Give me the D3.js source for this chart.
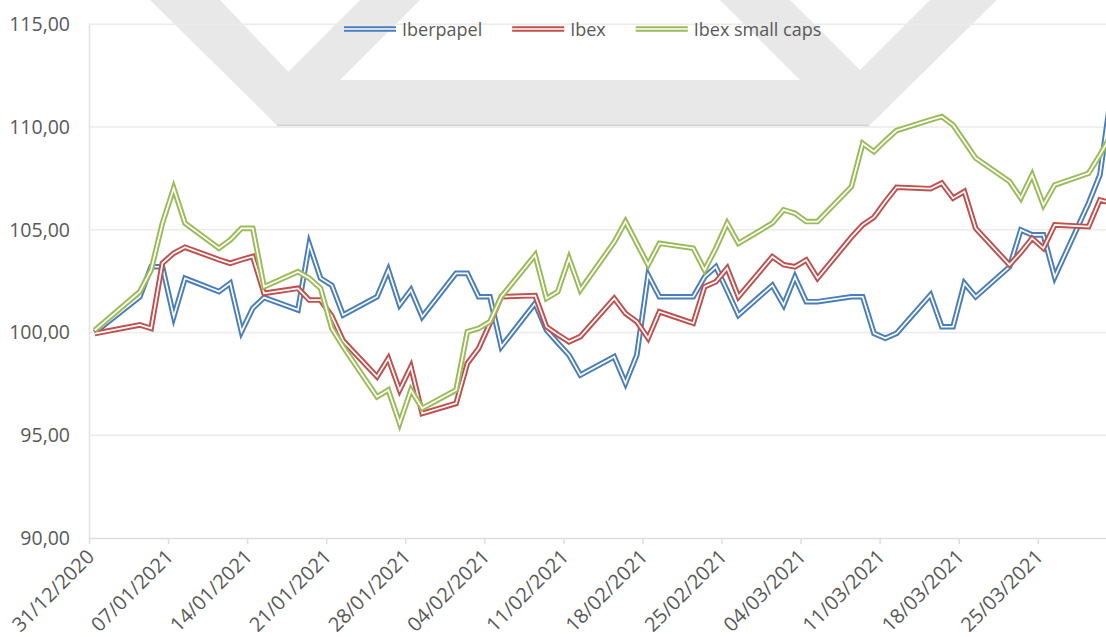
<!DOCTYPE html>
<html>
<head>
<meta charset="utf-8">
<script src="https://cdn.jsdelivr.net/npm/d3@7"></script>
<style>
  body { margin: 0; background: #fff; }
  text { font-family: "Open Sans", sans-serif; fill: #595959; }
</style>
</head>
<body>
<script>
// trading days (dd/mm/yyyy)
var dates = [
  "31/12/2020",
  "04/01/2021","05/01/2021","06/01/2021","07/01/2021","08/01/2021",
  "11/01/2021","12/01/2021","13/01/2021","14/01/2021","15/01/2021",
  "18/01/2021","19/01/2021","20/01/2021","21/01/2021","22/01/2021",
  "25/01/2021","26/01/2021","27/01/2021","28/01/2021","29/01/2021",
  "01/02/2021","02/02/2021","03/02/2021","04/02/2021","05/02/2021",
  "08/02/2021","09/02/2021","10/02/2021","11/02/2021","12/02/2021",
  "15/02/2021","16/02/2021","17/02/2021","18/02/2021","19/02/2021",
  "22/02/2021","23/02/2021","24/02/2021","25/02/2021","26/02/2021",
  "01/03/2021","02/03/2021","03/03/2021","04/03/2021","05/03/2021",
  "08/03/2021","09/03/2021","10/03/2021","11/03/2021","12/03/2021",
  "15/03/2021","16/03/2021","17/03/2021","18/03/2021","19/03/2021",
  "22/03/2021","23/03/2021","24/03/2021","25/03/2021","26/03/2021",
  "29/03/2021","30/03/2021","31/03/2021"
];

var iberpapel = [
  100.00,
  101.74, 103.20, 103.20, 100.77, 102.64,
  101.99, 102.40, 100.04, 101.18, 101.70,
  101.10, 104.30, 102.64, 102.30, 100.85,
  101.74, 103.04, 101.34, 102.07, 100.77,
  102.88, 102.88, 101.74, 101.74, 99.31,
  101.42, 100.12, 99.50, 98.90, 97.93,
  98.82, 97.53, 98.90, 102.80, 101.74,
  101.74, 102.70, 103.20, 102.04, 100.85,
  102.30, 101.34, 102.70, 101.50, 101.50,
  101.74, 101.74, 99.96, 99.72, 99.96,
  101.83, 100.28, 100.28, 102.40, 101.74,
  103.20, 104.99, 104.75, 104.75, 102.70,
  106.30, 107.67, 111.60
];

var ibex = [
  99.95,
  100.37, 100.20, 103.37, 103.86, 104.15,
  103.55, 103.37, 103.55, 103.70, 101.91,
  102.15, 101.58, 101.58, 100.80, 99.60,
  97.85, 98.74, 97.20, 98.33, 96.06,
  96.55, 98.50, 99.23, 100.45, 101.74,
  101.80, 100.28, 99.90, 99.55, 99.80,
  101.66, 100.93, 100.53, 99.72, 101.01,
  100.45, 102.23, 102.47, 103.13, 101.74,
  103.69, 103.30, 103.20, 103.53, 102.64,
  104.64, 105.24, 105.61, 106.37, 107.07,
  107.00, 107.27, 106.54, 106.86, 105.07,
  103.29, 103.90, 104.59, 104.10, 105.24,
  105.15, 106.45, 106.30
];

var ibexSmallCaps = [
  100.10,
  101.99, 103.04, 105.32, 107.02, 105.32,
  104.10, 104.50, 105.07, 105.07, 102.23,
  102.96, 102.64, 102.15, 100.20, 99.31,
  96.87, 97.20, 95.58, 97.20, 96.31,
  97.20, 100.04, 100.20, 100.53, 101.74,
  103.77, 101.66, 101.99, 103.61, 102.07,
  104.40, 105.40, 104.34, 103.29, 104.34,
  104.10, 103.04, 104.10, 105.32, 104.34,
  105.32, 105.97, 105.80, 105.40, 105.40,
  107.10, 109.20, 108.80, 109.34, 109.83,
  110.35, 110.51, 110.10, 109.30, 108.49,
  107.35, 106.54, 107.67, 106.21, 107.18,
  107.75, 108.64, 109.60
];

var seriesNames = ["Iberpapel", "Ibex", "Ibex small caps"];
var seriesColors = ["#4a7ebb", "#c0504d", "#9bbb59"];

var yTicks = [90, 95, 100, 105, 110, 115];
var xTickLabels = [
  "31/12/2020","07/01/2021","14/01/2021","21/01/2021","28/01/2021",
  "04/02/2021","11/02/2021","18/02/2021","25/02/2021","04/03/2021",
  "11/03/2021","18/03/2021","25/03/2021"
];

var width = 1106, height = 637;
var parseDate = d3.timeParse("%d/%m/%Y");
var fmtDate = d3.timeFormat("%d/%m/%Y");
var comma = d3.formatLocale({decimal: ",", thousands: ".", grouping: [3], currency: ["", "€"]}).format(".2f");

var svg = d3.select("body").append("svg")
  .attr("width", width)
  .attr("height", height);

svg.append("rect").attr("width", width).attr("height", height).attr("fill", "#fff");

// scales
var plotLeft = 89, plotTop = 24.3, plotBottom = 538;
var dayPx = 11.295;
var x = d3.scaleTime()
  .domain([parseDate("31/12/2020"), parseDate("02/04/2021")])
  .range([plotLeft, plotLeft + 92 * dayPx]);
var y = d3.scaleLinear()
  .domain([90, 115])
  .range([plotBottom, plotTop]);

// background watermark logo
var wm = svg.append("g");
wm.append("path")
  .attr("d", "M150,0 L276.7,125 L870,125 L996.7,0 L930,0 L860,70 L790,0 L720,0 L800,80 L340,80 L420,0 L360,0 L288.3,71.7 L220,0 Z")
  .attr("fill", "#e8e8e8");
wm.append("line")
  .attr("x1", 277).attr("x2", 869).attr("y1", 125.5).attr("y2", 125.5)
  .attr("stroke", "#d6d6d6").attr("stroke-width", 2);

// gridlines
svg.append("g").selectAll("line")
  .data(yTicks.filter(function(d){ return d > 90; }))
  .enter().append("line")
  .attr("x1", plotLeft).attr("x2", width)
  .attr("y1", function(d){ return y(d); })
  .attr("y2", function(d){ return y(d); })
  .attr("stroke", "#ebebeb")
  .attr("stroke-width", 1.5);

// y axis
var yAxis = d3.axisLeft(y).tickValues(yTicks).tickSize(0).tickPadding(19)
  .tickFormat(function(d){ return comma(d); });
var gy = svg.append("g")
  .attr("transform", "translate(" + plotLeft + ",0)")
  .call(yAxis);
gy.select(".domain").attr("stroke", "#e3e3e3").attr("stroke-width", 1.5);
gy.selectAll("text")
  .style("font-size", "19.5px")
  .style("font-family", "'Open Sans', sans-serif")
  .attr("fill", "#595959");

// x axis
var tickDates = xTickLabels.map(parseDate);
var xAxis = d3.axisBottom(x).tickValues(tickDates).tickSize(6).tickSizeOuter(0)
  .tickFormat(fmtDate);
var gx = svg.append("g")
  .attr("transform", "translate(0," + plotBottom + ")")
  .call(xAxis);
gx.select(".domain").attr("stroke", "#dedede").attr("stroke-width", 1.5);
gx.selectAll(".tick line").attr("stroke", "#dedede").attr("stroke-width", 1.5);
gx.selectAll("text")
  .style("font-size", "20px")
  .style("font-family", "'Open Sans', sans-serif")
  .attr("fill", "#595959")
  .attr("text-anchor", "end")
  .attr("dy", 0)
  .attr("y", 0)
  .attr("transform", "translate(6,20) rotate(-45)");

// lines
var line = d3.line()
  .x(function(d){ return x(d3.timeHour.offset(parseDate(d.date), 12)); })
  .y(function(d){ return y(d.value); });

var allSeries = [iberpapel, ibex, ibexSmallCaps].map(function(vals, i){
  return {
    name: seriesNames[i],
    color: seriesColors[i],
    values: dates.map(function(dt, j){ return {date: dt, value: vals[j]}; })
  };
});

allSeries.forEach(function(s){
  var g = svg.append("g").attr("class", "series");
  g.append("path")
    .datum(s.values)
    .attr("d", line)
    .attr("fill", "none")
    .attr("stroke", s.color)
    .attr("stroke-width", 5.6)
    .attr("stroke-linejoin", "miter")
    .attr("stroke-miterlimit", 6);
  g.append("path")
    .datum(s.values)
    .attr("d", line)
    .attr("fill", "none")
    .attr("stroke", "#fff")
    .attr("stroke-width", 1.7)
    .attr("stroke-linejoin", "miter")
    .attr("stroke-miterlimit", 6);
});

// legend
var legend = svg.append("g").attr("transform", "translate(344,29)");
var lx = 0;
allSeries.forEach(function(s){
  var item = legend.append("g").attr("transform", "translate(" + lx + ",0)");
  item.append("line").attr("x1", 0).attr("x2", 52).attr("y1", 0).attr("y2", 0)
    .attr("stroke", s.color).attr("stroke-width", 5.6);
  item.append("line").attr("x1", 0).attr("x2", 52).attr("y1", 0).attr("y2", 0)
    .attr("stroke", "#fff").attr("stroke-width", 1.7);
  var t = item.append("text")
    .attr("x", 58).attr("y", 6.5)
    .style("font-size", "18px")
    .text(s.name);
  lx += 58 + t.node().getComputedTextLength() + 30;
});
</script>
</body>
</html>
